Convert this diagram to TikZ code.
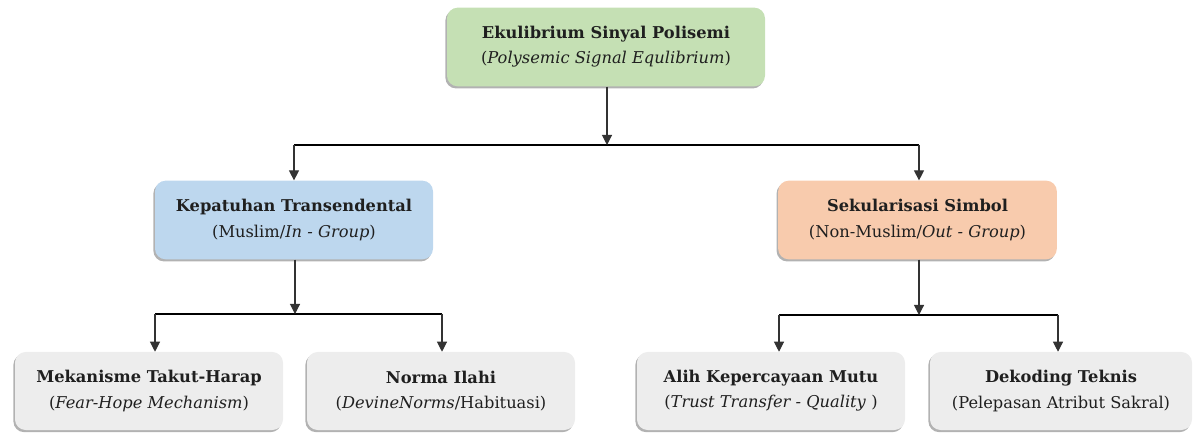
\documentclass[tikz,border=0pt]{standalone}
\usepackage{fontspec}
\setmainfont{DejaVu Serif}
\usetikzlibrary{shadows,arrows.meta}
\definecolor{boxgreen}{HTML}{C5E0B4}
\definecolor{boxblue}{HTML}{BDD7EE}
\definecolor{boxorange}{HTML}{F8CBAD}
\definecolor{boxgray}{HTML}{EDEDED}
\tikzset{
  box/.style={rounded corners=8pt, align=center, inner sep=0pt,
    minimum height=59pt, text=black!88,
    font=\fontsize{12.2}{18.8}\selectfont,
    drop shadow={shadow xshift=-1.2pt, shadow yshift=-1.6pt, opacity=0.3, fill=black}},
  link/.style={line width=0.8pt, black!80},
  bar/.style={line width=1.4pt, black},
  tip/.style={-{Triangle[length=7.5pt,width=7.5pt]}}
}
\begin{document}
\begin{tikzpicture}[x=0.75pt,y=-0.75pt]
  \useasboundingbox (0,0) rectangle (1195,434);
  \node[box, fill=boxgreen, minimum width=238.5pt] (root) at (606,47)
    {\textbf{Ekulibrium Sinyal Polisemi}\\(\textit{Polysemic Signal Equlibrium})};
  \node[box, fill=boxblue, minimum width=208.5pt] (kep) at (294,220)
    {\textbf{Kepatuhan Transendental}\\(Muslim/\textit{In - Group})};
  \node[box, fill=boxorange, minimum width=209pt] (sek) at (917.5,220)
    {\textbf{Sekularisasi Simbol}\\(Non-Muslim/\textit{Out - Group})};
  \node[box, fill=boxgray, minimum width=201pt, minimum height=58.5pt] (takut) at (149,391)
    {\textbf{Mekanisme Takut-Harap}\\(\textit{Fear-Hope Mechanism})};
  \node[box, fill=boxgray, minimum width=201pt, minimum height=58.5pt] (norma) at (441,391)
    {\textbf{Norma Ilahi}\\(\textit{DevineNorms}/Habituasi)};
  \node[box, fill=boxgray, minimum width=201pt, minimum height=58.5pt] (alih) at (771,391)
    {\textbf{Alih Kepercayaan Mutu}\\(\textit{Trust Transfer - Quality} )};
  \node[box, fill=boxgray, minimum width=196.5pt, minimum height=58.5pt] (dekod) at (1061,391)
    {\textbf{Dekoding Teknis}\\(Pelepasan Atribut Sakral)};
  \coordinate (j0) at (607,145);
  \coordinate (j0l) at (294,145);
  \coordinate (j0r) at (919,145);
  \coordinate (j1) at (295,314);
  \coordinate (j1l) at (155,314);
  \coordinate (j1r) at (442,314);
  \coordinate (j2) at (919,315);
  \coordinate (j2l) at (779,315);
  \coordinate (j2r) at (1058,315);
  \draw[bar] (j0l) -- (j0r);
  \draw[bar] (j1l) -- (j1r);
  \draw[bar] (j2l) -- (j2r);
  \begin{scope}[tip]
    \draw[link] (j0 |- root.south) -- (j0);
    \draw[link] (j1 |- kep.south) -- (j1);
    \draw[link] (j2 |- sek.south) -- (j2);
    \draw[link] (j0l) -- (j0l |- kep.north);
    \draw[link] (j0r) -- (j0r |- sek.north);
    \draw[link] (j1l) -- (j1l |- takut.north);
    \draw[link] (j1r) -- (j1r |- norma.north);
    \draw[link] (j2l) -- (j2l |- alih.north);
    \draw[link] (j2r) -- (j2r |- dekod.north);
  \end{scope}
\end{tikzpicture}
\end{document}
